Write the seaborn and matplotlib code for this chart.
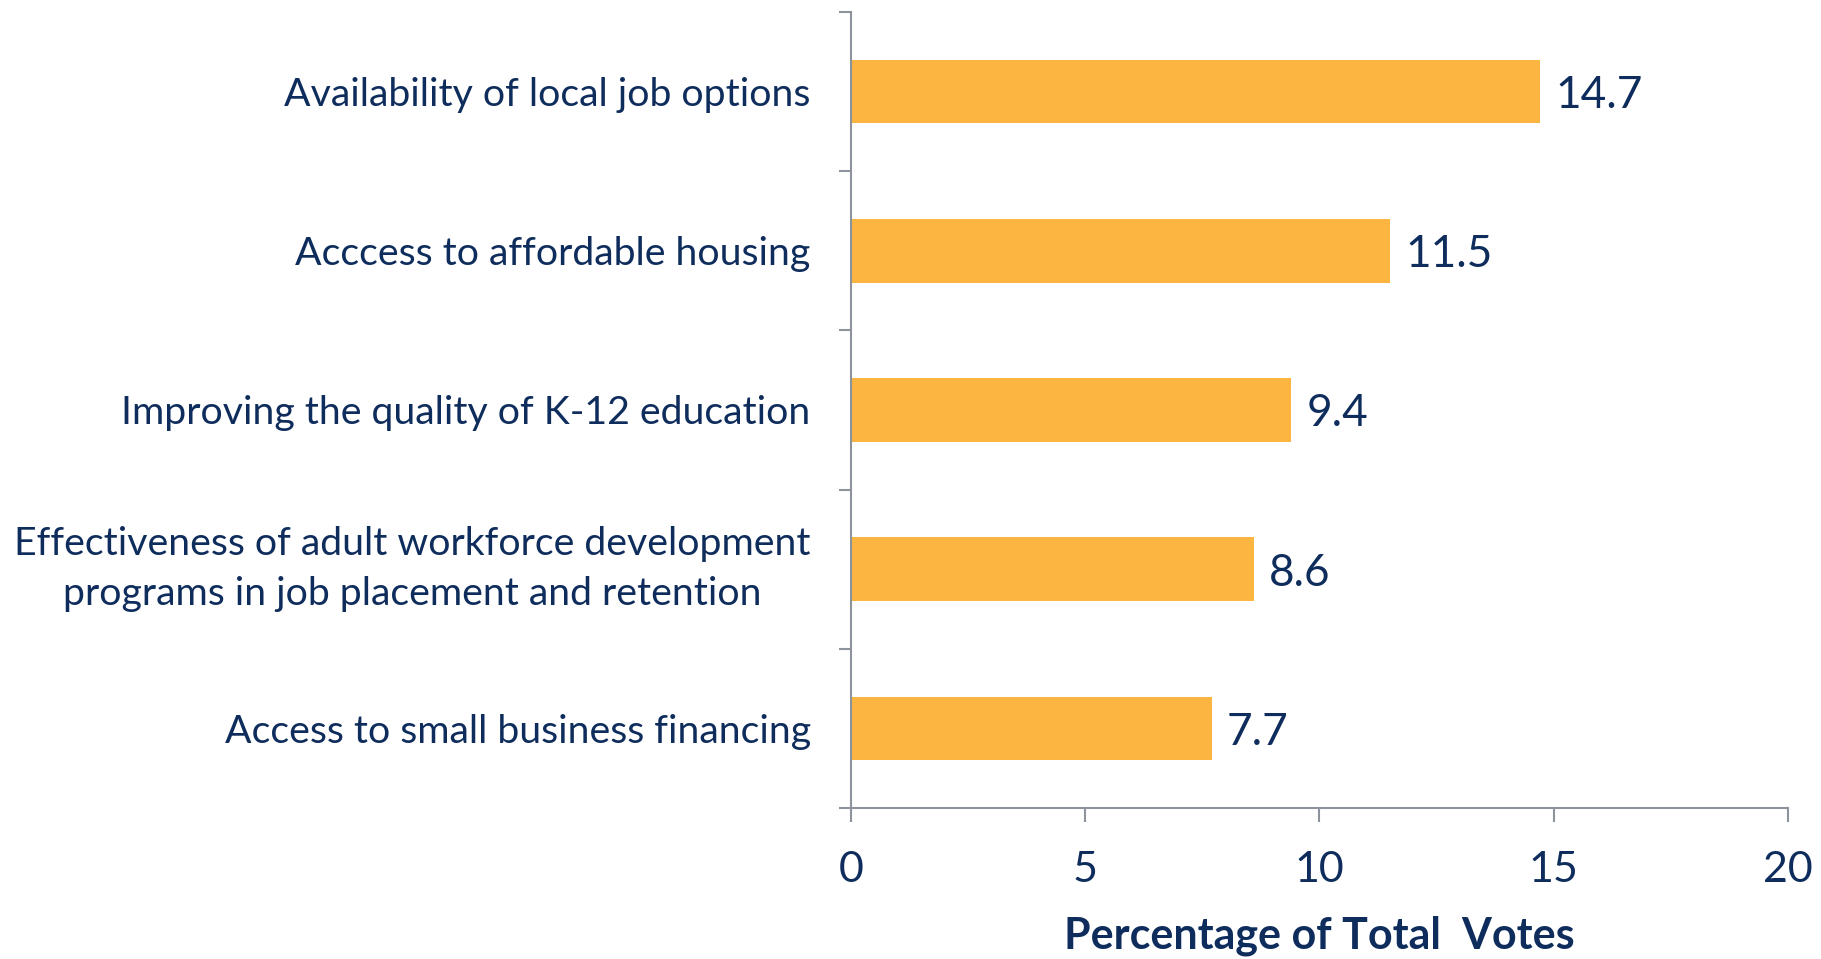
import matplotlib
matplotlib.use("Agg")
import matplotlib.pyplot as plt
import seaborn as sns
import pandas as pd

categories = [
    "Availability of local job options",
    "Acccess to affordable housing",
    "Improving the quality of K-12 education",
    "Effectiveness of adult workforce development\nprograms in job placement and retention",
    "Access to small business financing",
]
values = [14.7, 11.5, 9.4, 8.6, 7.7]
x_ticks = [0, 5, 10, 15, 20]
x_label = "Percentage of Total  Votes"

sns.set_theme(style="white")
plt.rcParams["font.family"] = ["Lato", "DejaVu Sans"]

TEXT = "#0f2d5c"
BAR = "#fbb540"
SPINE = "#8c939d"

df = pd.DataFrame({"category": categories, "value": values})

fig = plt.figure(figsize=(18.21, 9.59), dpi=100)
ax = fig.add_axes([0.4673, 0.1575, 0.5146, 0.83])

sns.barplot(data=df, y="category", x="value", orient="h", color=BAR,
            saturation=1, width=0.4, ax=ax, edgecolor="none")

ax.set_xlim(0, 20)
ax.set_ylim(len(categories) - 0.5, -0.5)
ax.set_xticks(x_ticks)
ax.set_xticklabels([str(t) for t in x_ticks], fontsize=31, color=TEXT)

ax.set_yticks([i - 0.5 for i in range(len(categories) + 1)])
ax.set_yticklabels([])
ax.set_yticks(range(len(categories)), minor=True)
ax.set_yticklabels(categories, minor=True, fontsize=28.3, color=TEXT,
                   multialignment="center", linespacing=1.5)
for lbl in ax.get_yticklabels(minor=True):
    if "\n" in lbl.get_text():
        lbl.set_verticalalignment("center")
ax.tick_params(axis="y", which="minor", length=0, pad=29)
ax.tick_params(axis="y", which="major", length=9, width=1.5, color=SPINE, direction="out", left=True)
ax.tick_params(axis="x", which="major", length=10, width=1.5, color=SPINE, direction="out", bottom=True, pad=21)

for s in ["top", "right"]:
    ax.spines[s].set_visible(False)
for s in ["left", "bottom"]:
    ax.spines[s].set_color(SPINE)
    ax.spines[s].set_linewidth(1.5)

ax.set_ylabel("")
ax.set_xlabel(x_label, fontsize=31, fontweight="bold", color=TEXT, labelpad=19)

for container in ax.containers:
    texts = ax.bar_label(container, labels=[f"{v:.1f}" for v in values], padding=11,
                         fontsize=31.8, color=TEXT)
    for t in texts:
        t.set_verticalalignment("center_baseline")

fig.savefig("out.png", dpi=100, facecolor="white")
